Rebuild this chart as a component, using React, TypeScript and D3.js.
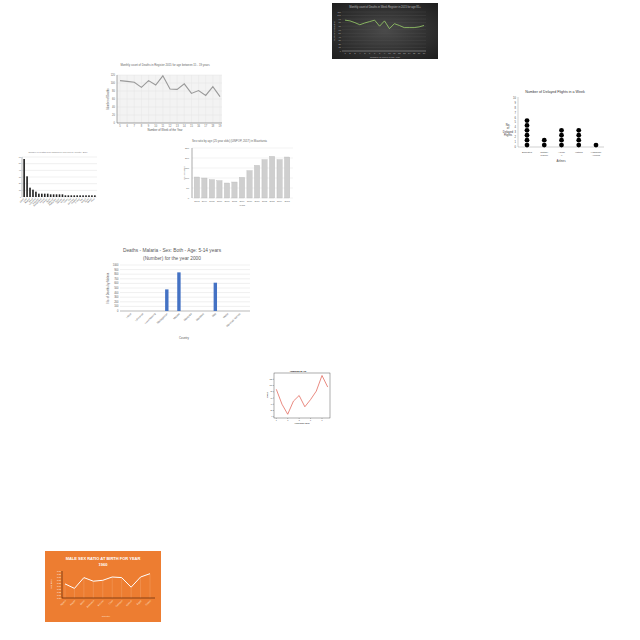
import React from "react";
import * as d3 from "d3";

const FONT = "Liberation Sans, Arial, sans-serif";

// 1. dark line chart
const darkWeeks = ["1", "2", "3", "4", "5", "6", "7", "8", "9", "10", "11", "12", "13", "14", "15", "16", "17"];
const darkValues = [87, 85, 80, 74, 79, 83, 87, 70, 85, 63, 77, 72, 66, 66, 66, 68, 72];
const darkTicks = [0, 10, 20, 30, 40, 50, 60, 70, 80, 90, 100, 110];

// 2. grey line chart
const greyWeeks = ["5", "6", "7", "8", "9", "10", "11", "12", "13", "14", "15", "16", "17", "18", "19"];
const greyValues = [106, 104, 102, 89, 106, 95, 118, 85, 84, 98, 74, 81, 69, 91, 66];
const greyTicks = [0, 20, 40, 60, 80, 100, 120];

// 3. dot plot
const airlines = ["Emirates", "Cathay Pacific", "Airline X", "Vistara", "Hawaiian Airlines"];
const delayed = [6, 2, 4, 4, 1];
const dotTicks = [0, 1, 2, 3, 4, 5, 6, 7, 8, 9, 10];

// 4. small black bars
const smallCats = ["China", "India", "Nigeria", "Brazil", "Indonesia", "Pakistan", "Bangladesh", "Russia", "Mexico", "Japan",
  "Ethiopia", "Philippines", "Egypt", "Vietnam", "Congo", "Turkey", "Iran", "Germany", "Thailand", "France",
  "Italy", "Kenya", "Spain", "Ghana", "Peru"];
const smallValues = [57, 31, 14, 11, 8, 5, 5, 5, 5, 4, 4, 4, 4, 4, 2.5, 2.5, 2.5, 2.5, 2.5, 2.5, 2.5, 2.5, 2.5, 2.5, 2.5];
const smallTicks = [0, 10, 20, 30, 40, 50, 60];

// 5. grey bars
const years = ["2003", "2004", "2005", "2006", "2007", "2008", "2009", "2010", "2011", "2012", "2013", "2014", "2015"];
const yearValues = [105, 100, 92, 87, 75, 80, 103, 137, 163, 192, 208, 192, 205];
const yearTicks = [0, 50, 100, 150, 200, 250];

// 6. malaria
const countries = ["Libya", "Lithuania", "Luxembourg", "Madagascar", "Malawi", "Malaysia", "Maldives", "Mali", "Malta", "Marshall Islands"];
const deaths = [0, 0, 0, 470, 840, 0, 0, 615, 0, 0];
const deathTicks = [0, 100, 200, 300, 400, 500, 600, 700, 800, 900, 1000];

// 7. red line
const redX = [1, 2, 3, 4, 5, 6, 7, 8, 9, 10];
const redValues = [88, 40, 8, 50, 68, 32, 55, 82, 132, 95];
const redYTicks = [0, 20, 40, 60, 80, 100, 120];
const redXTicks = [1, 3, 5, 7, 9];

// 8. orange
const sexCountries = ["Algeria", "Angola", "Benin", "Botswana", "Burundi", "Chad", "Comoros", "Djibouti", "Egypt", "Gabon"];
const sexRatio = [1.047, 1.032, 1.068, 1.056, 1.059, 1.07, 1.068, 1.036, 1.07, 1.081];
const sexTicks = [1.0, 1.01, 1.02, 1.03, 1.04, 1.05, 1.06, 1.07, 1.08, 1.09];

const DarkChart = () => {
  const x = d3.scalePoint().domain(darkWeeks).range([345, 424]);
  const y = d3.scaleLinear().domain([0, 110]).range([51, 12]);
  const line = d3.line<number>().x((_, i) => x(darkWeeks[i])!).y((d) => y(d));
  return (
    <g fontFamily={FONT}>
      <defs>
        <radialGradient id="darkbg" cx="50%" cy="50%" r="70%">
          <stop offset="0%" stopColor="#4a4a4a" />
          <stop offset="100%" stopColor="#1e1e1e" />
        </radialGradient>
      </defs>
      <rect x={332} y={3} width={106} height={56} fill="url(#darkbg)" />
      <text x={385} y={8} fontSize={2.6} fill="#bbb" textAnchor="middle">
        Monthly count of Deaths in Week Register in 2015 for age 85+
      </text>
      {darkTicks.map((t) => (
        <g key={t}>
          <line x1={342} x2={426} y1={y(t)} y2={y(t)} stroke="#555" strokeWidth={0.3} />
          <text x={341} y={y(t) + 0.8} fontSize={2.2} fill="#bbb" textAnchor="end">{t}</text>
        </g>
      ))}
      <line x1={342} x2={426} y1={51} y2={51} stroke="#aaa" strokeWidth={0.5} />
      {darkWeeks.map((w) => (
        <text key={w} x={x(w)} y={54} fontSize={2.2} fill="#bbb" textAnchor="middle">{w}</text>
      ))}
      <text x={385} y={57.5} fontSize={2.4} fill="#bbb" textAnchor="middle">Number of Week of the Year</text>
      <text transform="translate(335,31) rotate(-90)" fontSize={2.4} fill="#bbb" textAnchor="middle">Number of Deaths</text>
      <path d={line(darkValues)!} fill="none" stroke="#9ad06a" strokeWidth={0.8} />
    </g>
  );
};

const GreyLineChart = () => {
  const x = d3.scalePoint().domain(greyWeeks).range([120, 220]);
  const y = d3.scaleLinear().domain([0, 120]).range([123, 75]);
  const line = d3.line<number>().x((_, i) => x(greyWeeks[i])!).y((d) => y(d));
  return (
    <g fontFamily={FONT}>
      <rect x={117} y={75} width={105} height={48} fill="#f3f3f3" />
      {greyTicks.map((t) => (
        <g key={t}>
          <line x1={117} x2={222} y1={y(t)} y2={y(t)} stroke="#ddd" strokeWidth={0.4} />
          <text x={115} y={y(t) + 0.9} fontSize={2.6} fill="#666" textAnchor="end">{t}</text>
        </g>
      ))}
      {greyWeeks.map((w) => (
        <g key={w}>
          <line x1={x(w)} x2={x(w)} y1={75} y2={123} stroke="#e2e2e2" strokeWidth={0.4} />
          <text x={x(w)} y={127} fontSize={2.6} fill="#666" textAnchor="middle">{w}</text>
        </g>
      ))}
      <line x1={117} x2={222} y1={123} y2={123} stroke="#555" strokeWidth={0.5} />
      <line x1={117} x2={117} y1={75} y2={123} stroke="#555" strokeWidth={0.5} />
      <text x={165} y={66} fontSize={2.8} fill="#666" textAnchor="middle">
        Monthly count of Deaths in Register 2015 for age between 15 - 19 years
      </text>
      <text x={165} y={131} fontSize={2.8} fill="#555" textAnchor="middle">Number of Week of the Year</text>
      <text transform="translate(109,99) rotate(-90)" fontSize={2.6} fill="#555" textAnchor="middle">Number of Deaths</text>
      <path d={line(greyValues)!} fill="none" stroke="#999" strokeWidth={1.1} />
    </g>
  );
};

const DotChart = () => {
  const x = d3.scalePoint().domain(airlines).range([527, 596]);
  const y = d3.scaleLinear().domain([0, 10]).range([147, 98]);
  return (
    <g fontFamily={FONT}>
      <text x={555} y={93} fontSize={3.6} fill="#333" textAnchor="middle">Number of Delayed Flights in a Week</text>
      {dotTicks.map((t) => (
        <text key={t} x={516} y={y(t) + 0.9} fontSize={2.6} fill="#444" textAnchor="end">{t}</text>
      ))}
      <line x1={518} x2={518} y1={97} y2={147} stroke="#888" strokeWidth={0.4} />
      <line x1={518} x2={604} y1={147} y2={147} stroke="#888" strokeWidth={0.4} />
      <text x={508} y={126} fontSize={2.8} fill="#333" textAnchor="middle">
        <tspan x={508} dy={0}>No.</tspan>
        <tspan x={508} dy={3.3}>of</tspan>
        <tspan x={508} dy={3.3}>Delayed</tspan>
        <tspan x={508} dy={3.3}>Flights</tspan>
      </text>
      {airlines.map((a, i) => (
        <g key={a}>
          {d3.range(delayed[i]).map((k) => (
            <circle key={k} cx={x(a)} cy={y(k + 0.4)} r={2.4} fill="#000" />
          ))}
          <text x={x(a)} y={153} fontSize={2.5} fill="#444" textAnchor="middle">
            {a.split(" ").map((p, j) => (
              <tspan key={j} x={x(a)} dy={j === 0 ? 0 : 3}>{p}</tspan>
            ))}
          </text>
        </g>
      ))}
      <text x={561} y={162} fontSize={2.8} fill="#444" textAnchor="middle">Airlines</text>
    </g>
  );
};

const SmallBars = () => {
  const x = d3.scaleBand().domain(smallCats).range([22, 97]).padding(0.45);
  const y = d3.scaleLinear().domain([0, 60]).range([197, 157]);
  return (
    <g fontFamily={FONT}>
      <text x={58} y={152.5} fontSize={2.2} fill="#777" textAnchor="middle">
        Number of deaths from malaria per 100,000 by country, 2019
      </text>
      {smallTicks.map((t) => (
        <g key={t}>
          <line x1={22} x2={97} y1={y(t)} y2={y(t)} stroke="#ccc" strokeWidth={0.3} />
          <text x={21} y={y(t) + 0.7} fontSize={2} fill="#555" textAnchor="end">{t}</text>
        </g>
      ))}
      <line x1={22} x2={22} y1={157} y2={197} stroke="#555" strokeWidth={0.4} />
      {smallCats.map((c, i) => (
        <g key={c}>
          <rect x={x(c)} y={y(smallValues[i])} width={x.bandwidth()} height={197 - y(smallValues[i])} fill="#222" />
          <text transform={`translate(${x(c)! + x.bandwidth() / 2},199) rotate(-45)`} fontSize={2} fill="#555" textAnchor="end">{c}</text>
        </g>
      ))}
    </g>
  );
};

const YearBars = () => {
  const x = d3.scaleBand().domain(years).range([192, 292]).padding(0.3);
  const y = d3.scaleLinear().domain([0, 250]).range([198, 148]);
  return (
    <g fontFamily={FONT}>
      <text x={192} y={141.5} fontSize={2.8} fill="#666">
        Sex ratio by age (25 year olds) (UNPOP, 2017) in Mauritania
      </text>
      {yearTicks.map((t) => (
        <g key={t}>
          <line x1={192} x2={293} y1={y(t)} y2={y(t)} stroke="#ddd" strokeWidth={0.4} />
          <text x={189} y={y(t) + 0.8} fontSize={2.4} fill="#666" textAnchor="end">{t}</text>
        </g>
      ))}
      <line x1={192} x2={192} y1={148} y2={198} stroke="#555" strokeWidth={0.5} />
      {years.map((yr, i) => (
        <g key={yr}>
          <rect x={x(yr)} y={y(yearValues[i])} width={x.bandwidth()} height={198 - y(yearValues[i])} fill="#cfcfcf" stroke="#b0b0b0" strokeWidth={0.3} />
          <text x={x(yr)! + x.bandwidth() / 2} y={202} fontSize={2.3} fill="#666" textAnchor="middle">{yr}</text>
        </g>
      ))}
      <text x={242} y={206} fontSize={2.4} fill="#666" textAnchor="middle">Years</text>
      <text transform="translate(185,173) rotate(-90)" fontSize={2.4} fill="#666" textAnchor="middle">No. of cases</text>
    </g>
  );
};

const MalariaChart = () => {
  const x = d3.scaleBand().domain(countries).range([120, 250]).padding(0.72);
  const y = d3.scaleLinear().domain([0, 1000]).range([311, 265]);
  return (
    <g fontFamily={FONT}>
      <text x={172} y={252} fontSize={4.8} fill="#595959" textAnchor="middle">Deaths - Malaria - Sex: Both - Age: 5-14 years</text>
      <text x={172} y={259.5} fontSize={4.8} fill="#595959" textAnchor="middle">(Number) for the year 2000</text>
      {deathTicks.map((t) => (
        <g key={t}>
          <line x1={120} x2={250} y1={y(t)} y2={y(t)} stroke="#d9d9d9" strokeWidth={0.4} />
          <text x={118.5} y={y(t) + 0.9} fontSize={2.6} fill="#595959" textAnchor="end">{t}</text>
        </g>
      ))}
      <line x1={120} x2={250} y1={311} y2={311} stroke="#888" strokeWidth={0.5} />
      {countries.map((c, i) => (
        <g key={c}>
          <rect x={x(c)} y={y(deaths[i])} width={x.bandwidth()} height={311 - y(deaths[i])} fill="#4472c4" />
          <text transform={`translate(${x(c)! + x.bandwidth() / 2 + 1},314) rotate(-45)`} fontSize={2.6} fill="#595959" textAnchor="end">{c}</text>
        </g>
      ))}
      <text transform="translate(108.5,288) rotate(-90)" fontSize={2.8} fill="#595959" textAnchor="middle">No. of Deaths by Malaria</text>
      <text x={184} y={338.5} fontSize={2.8} fill="#595959" textAnchor="middle">Country</text>
    </g>
  );
};

const RedChart = () => {
  const x = d3.scaleLinear().domain([0.6, 10.4]).range([274, 330]);
  const y = d3.scaleLinear().domain([-4, 140]).range([418, 373]);
  const line = d3.line<number>().x((_, i) => x(redX[i])).y((d) => y(d));
  return (
    <g fontFamily={FONT}>
      <text x={298} y={372} fontSize={2.4} fill="#000" textAnchor="middle" fontWeight="bold">Analysis of YR</text>
      <rect x={274} y={373} width={56} height={45} fill="#fff" stroke="#333" strokeWidth={0.4} />
      {redYTicks.map((t) => (
        <g key={t}>
          <line x1={273} x2={274} y1={y(t)} y2={y(t)} stroke="#333" strokeWidth={0.3} />
          <text x={272.5} y={y(t) + 0.6} fontSize={1.8} fill="#333" textAnchor="end">{t}</text>
        </g>
      ))}
      {redXTicks.map((t) => (
        <g key={t}>
          <line x1={x(t)} x2={x(t)} y1={418} y2={419} stroke="#333" strokeWidth={0.3} />
          <text x={x(t)} y={420.8} fontSize={1.8} fill="#333" textAnchor="middle">{t}</text>
        </g>
      ))}
      <text x={302} y={423.5} fontSize={2} fill="#000" textAnchor="middle">Years since 2000</text>
      <text transform="translate(268,395) rotate(-90)" fontSize={2} fill="#000" textAnchor="middle">Values</text>
      <path d={line(redValues)!} fill="none" stroke="#e0584a" strokeWidth={0.7} />
    </g>
  );
};

const OrangeChart = () => {
  const x = d3.scalePoint().domain(sexCountries).range([65, 150]);
  const y = d3.scaleLinear().domain([1.0, 1.09]).range([598, 571]);
  const line = d3.line<number>().x((_, i) => x(sexCountries[i])!).y((d) => y(d));
  return (
    <g fontFamily={FONT}>
      <rect x={45} y={551} width={116} height={71} fill="#ed7d31" />
      <text x={103} y={559.5} fontSize={4} fill="#fff" fontWeight="bold" textAnchor="middle">MALE SEX RATIO AT BIRTH FOR YEAR</text>
      <text x={103} y={566} fontSize={4} fill="#fff" fontWeight="bold" textAnchor="middle">1960</text>
      {sexTicks.map((t) => (
        <text key={t} x={61} y={y(t) + 0.7} fontSize={2} fill="#fff" textAnchor="end">{t.toFixed(2)}</text>
      ))}
      {sexCountries.map((c, i) => (
        <g key={c}>
          <line x1={x(c)} x2={x(c)} y1={y(sexRatio[i])} y2={598} stroke="#f6b88d" strokeWidth={0.3} />
          <text transform={`translate(${x(c)! + 1},601) rotate(-45)`} fontSize={2.2} fill="#fde4d2" textAnchor="end">{c}</text>
        </g>
      ))}
      <line x1={62} x2={62} y1={571} y2={598} stroke="#6b3010" strokeWidth={0.8} />
      <line x1={62} x2={155} y1={598} y2={598} stroke="#6b3010" strokeWidth={0.8} />
      <path d={line(sexRatio)!} fill="none" stroke="#fff" strokeWidth={1} />
      <text transform="translate(52,584) rotate(-90)" fontSize={2.2} fill="#fff" textAnchor="middle">Sex Ratio</text>
      <text x={106} y={617} fontSize={2.4} fill="#fde4d2" textAnchor="middle">Country</text>
    </g>
  );
};

export default function App() {
  return (
    <svg width={640} height={640} style={{ position: "absolute", left: 0, top: 0, background: "#fff" }}>
      <DarkChart />
      <GreyLineChart />
      <DotChart />
      <SmallBars />
      <YearBars />
      <MalariaChart />
      <RedChart />
      <OrangeChart />
    </svg>
  );
}
